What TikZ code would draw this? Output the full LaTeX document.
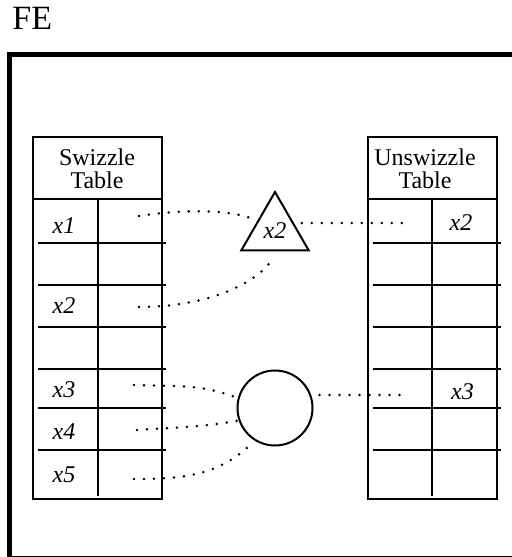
\documentclass[tikz,border=0pt]{standalone}
\usepackage{fontspec}
\setmainfont{Liberation Serif}
\usepackage{tikz}
\usetikzlibrary{shapes.geometric}

\tikzset{
  tbl/.style={line width=1pt},
  dots/.style={line width=1.4pt, dash pattern=on 0pt off 5pt, line cap=round},
  var/.style={font=\fontsize{12}{14}\selectfont\itshape, inner sep=0pt, anchor=base},
  head/.style={font=\fontsize{12}{11.5}\selectfont, align=center, inner sep=0pt}
}

\begin{document}
\begin{tikzpicture}[x=0.5pt, y=0.5pt]
  \useasboundingbox (0,0) rectangle (512,557);

  % frame
  \node [font=\fontsize{17}{20}\selectfont, inner sep=0pt, anchor=base west] (fe) at (12,527.7) {FE};
  \draw [line width=2.25pt] (9.5,0) -- (9.5,502.5) -- (512,502.5);
  \draw [line width=0.5pt] (9.5,0.5) -- (512,0.5);

  % swizzle table
  \draw [tbl] (32.5,57.7) rectangle (162,420);
  \draw [tbl] (32.5,358) -- (162,358);
  \draw [tbl] (97.5,358) -- (97.5,61);
  \foreach \y in {314,272,230,188,148.7,107}
    \draw [tbl] (38,\y) -- (166,\y);
  \node [head] (swzhead) at (97,388.5) {Swizzle\\Table};
  \node [var] (sx1) at (64,323.7) {x1};
  \node [var] (sx2) at (64,243.7) {x2};
  \node [var] (sx3) at (64,159) {x3};
  \node [var] (sx4) at (64,117) {x4};
  \node [var] (sx5) at (64,74) {x5};

  % unswizzle table
  \draw [tbl] (367.7,57.7) rectangle (496.5,420);
  \draw [tbl] (367.7,358) -- (496.5,358);
  \draw [tbl] (432,358) -- (432,61);
  \foreach \y in {314,272,230,188,148.7,107}
    \draw [tbl] (372.7,\y) -- (501,\y);
  \node [head] (unshead) at (425,388.5) {Unswizzle\\Table};
  \node [var] (ux2) at (461,326.3) {x2};
  \node [var] (ux3) at (462.5,157) {x3};

  % triangle and circle
  \node [draw, tbl, regular polygon, regular polygon sides=3, minimum size=39pt,
         inner sep=0pt, font=\fontsize{12}{14}\selectfont\itshape] (tri) at (275,326) {x2};
  \node [draw, tbl, circle, minimum size=37.5pt, inner sep=0pt] (circ) at (275,149) {};

  % ends in the cells
  \coordinate (swz1) at (139,341);
  \coordinate (swz2) at (139,250);
  \coordinate (swz3) at (134,172);
  \coordinate (swz4) at (137,127);
  \coordinate (swz5) at (134,78);
  \coordinate (uns1) at (403,334);
  \coordinate (uns3) at (408,162);

  % dotted links
  \draw [dots] (swz1) .. controls (185,348) and (232,348) .. (tri.side 1);
  \draw [dots, shorten >=4pt] (swz2) .. controls (220,250) and (265,282) .. (tri.side 2);
  \draw [dots, shorten <=4.5pt] (tri.side 3 |- uns1) -- (uns1);

  \draw [dots, shorten >=2.5pt] (swz3) to [out=-2, in=160] (circ.165);
  \draw [dots, shorten >=1pt] (swz4) to [out=4, in=190] (circ.199);
  \draw [dots, shorten >=1pt] (swz5) to [out=0, in=225] (circ.238);
  \draw [dots, shorten <=3pt] (circ.east |- uns3) -- (uns3);
\end{tikzpicture}
\end{document}
